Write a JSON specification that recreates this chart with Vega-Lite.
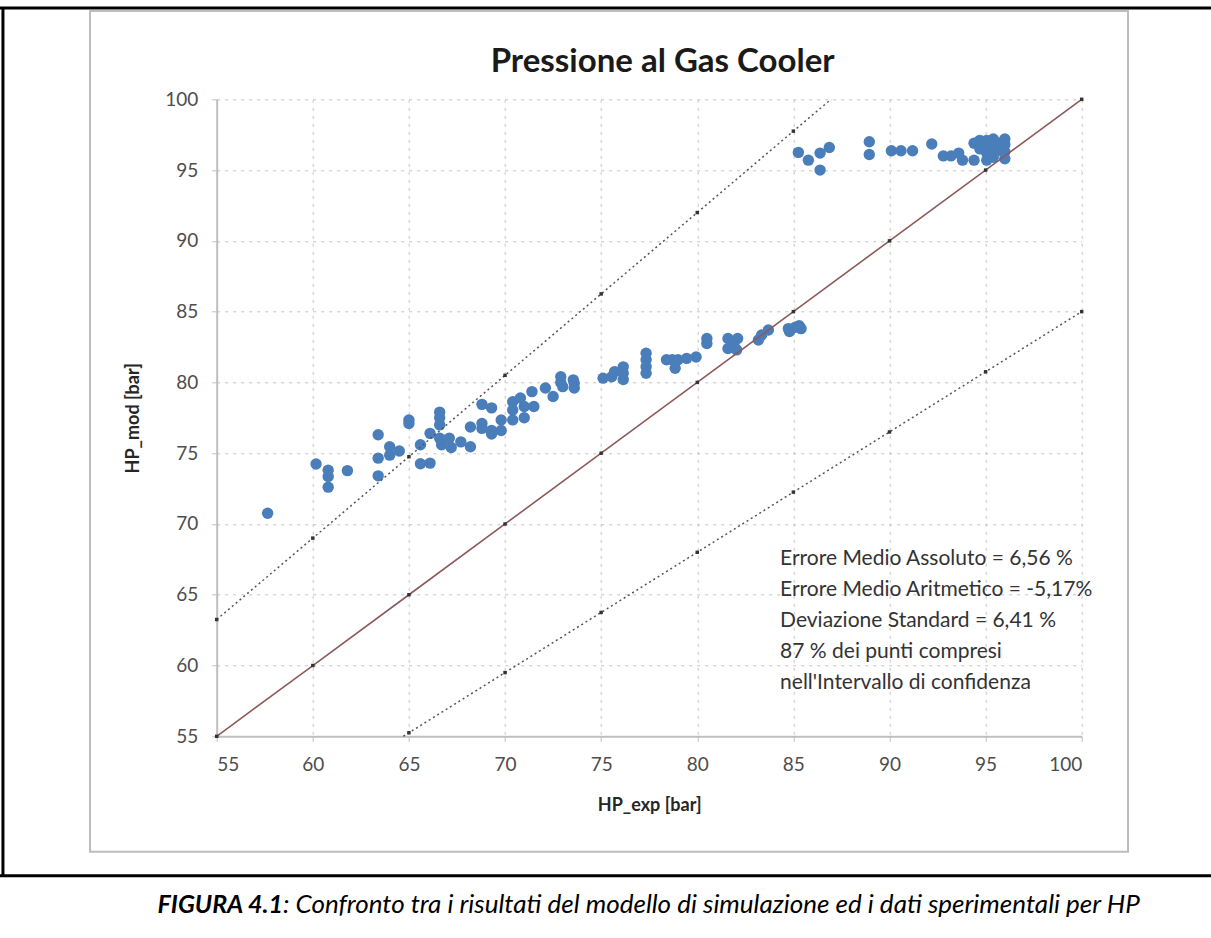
{
  "$schema": "https://vega.github.io/schema/vega-lite/v6.json",
  "width": 865,
  "height": 637,
  "autosize": {"type": "none"},
  "padding": {"left": 216.7, "top": 99.3, "right": 129.3, "bottom": 201.7},
  "background": "white",
  "config": {"view": {"stroke": null}, "font": "Lato"},
  "datasets": {
    "punti": [
      {"HP_exp": 57.65, "HP_mod": 70.76}, {"HP_exp": 60.17, "HP_mod": 74.24}, {"HP_exp": 60.8, "HP_mod": 73.8},
      {"HP_exp": 60.8, "HP_mod": 73.35}, {"HP_exp": 60.8, "HP_mod": 72.6}, {"HP_exp": 61.8, "HP_mod": 73.77},
      {"HP_exp": 63.4, "HP_mod": 76.3}, {"HP_exp": 63.4, "HP_mod": 74.65}, {"HP_exp": 63.4, "HP_mod": 73.4},
      {"HP_exp": 64.0, "HP_mod": 75.46}, {"HP_exp": 64.0, "HP_mod": 74.86}, {"HP_exp": 64.5, "HP_mod": 75.15},
      {"HP_exp": 65.0, "HP_mod": 77.1}, {"HP_exp": 65.0, "HP_mod": 77.35}, {"HP_exp": 65.6, "HP_mod": 75.6},
      {"HP_exp": 65.6, "HP_mod": 74.25}, {"HP_exp": 66.1, "HP_mod": 74.3}, {"HP_exp": 66.1, "HP_mod": 76.4},
      {"HP_exp": 66.6, "HP_mod": 77.9}, {"HP_exp": 66.6, "HP_mod": 77.5}, {"HP_exp": 66.6, "HP_mod": 77.0},
      {"HP_exp": 66.6, "HP_mod": 76.06}, {"HP_exp": 66.7, "HP_mod": 75.6}, {"HP_exp": 67.1, "HP_mod": 76.06},
      {"HP_exp": 67.2, "HP_mod": 75.4}, {"HP_exp": 67.7, "HP_mod": 75.8}, {"HP_exp": 68.2, "HP_mod": 75.45},
      {"HP_exp": 68.2, "HP_mod": 76.85}, {"HP_exp": 68.8, "HP_mod": 78.45}, {"HP_exp": 69.3, "HP_mod": 78.2},
      {"HP_exp": 68.8, "HP_mod": 77.1}, {"HP_exp": 68.8, "HP_mod": 76.75}, {"HP_exp": 69.3, "HP_mod": 76.6},
      {"HP_exp": 69.3, "HP_mod": 76.35}, {"HP_exp": 69.8, "HP_mod": 76.6}, {"HP_exp": 69.8, "HP_mod": 77.35},
      {"HP_exp": 70.4, "HP_mod": 78.64}, {"HP_exp": 70.4, "HP_mod": 78.05}, {"HP_exp": 70.4, "HP_mod": 77.35},
      {"HP_exp": 70.8, "HP_mod": 78.9}, {"HP_exp": 71.0, "HP_mod": 78.3}, {"HP_exp": 71.0, "HP_mod": 77.5},
      {"HP_exp": 71.4, "HP_mod": 79.35}, {"HP_exp": 71.5, "HP_mod": 78.3}, {"HP_exp": 72.1, "HP_mod": 79.6},
      {"HP_exp": 72.5, "HP_mod": 79.0}, {"HP_exp": 72.9, "HP_mod": 80.4}, {"HP_exp": 72.9, "HP_mod": 80.0},
      {"HP_exp": 73.0, "HP_mod": 79.7}, {"HP_exp": 73.6, "HP_mod": 79.94}, {"HP_exp": 73.6, "HP_mod": 79.6},
      {"HP_exp": 73.55, "HP_mod": 80.18}, {"HP_exp": 75.1, "HP_mod": 80.3}, {"HP_exp": 75.55, "HP_mod": 80.4},
      {"HP_exp": 75.7, "HP_mod": 80.76}, {"HP_exp": 76.15, "HP_mod": 81.1}, {"HP_exp": 76.15, "HP_mod": 80.65},
      {"HP_exp": 76.15, "HP_mod": 80.2}, {"HP_exp": 77.34, "HP_mod": 82.06}, {"HP_exp": 77.34, "HP_mod": 81.6},
      {"HP_exp": 77.34, "HP_mod": 81.1}, {"HP_exp": 77.34, "HP_mod": 80.65}, {"HP_exp": 78.4, "HP_mod": 81.6},
      {"HP_exp": 78.7, "HP_mod": 81.6}, {"HP_exp": 78.85, "HP_mod": 81.0}, {"HP_exp": 79.0, "HP_mod": 81.6},
      {"HP_exp": 79.45, "HP_mod": 81.7}, {"HP_exp": 79.94, "HP_mod": 81.8}, {"HP_exp": 80.5, "HP_mod": 83.1},
      {"HP_exp": 80.5, "HP_mod": 82.75}, {"HP_exp": 81.6, "HP_mod": 83.1}, {"HP_exp": 81.6, "HP_mod": 82.4},
      {"HP_exp": 82.1, "HP_mod": 83.1}, {"HP_exp": 82.05, "HP_mod": 82.3}, {"HP_exp": 81.9, "HP_mod": 82.7},
      {"HP_exp": 83.18, "HP_mod": 83.0}, {"HP_exp": 83.35, "HP_mod": 83.35}, {"HP_exp": 83.7, "HP_mod": 83.7},
      {"HP_exp": 84.74, "HP_mod": 83.8}, {"HP_exp": 85.1, "HP_mod": 83.9}, {"HP_exp": 85.4, "HP_mod": 83.8},
      {"HP_exp": 84.8, "HP_mod": 83.6}, {"HP_exp": 85.3, "HP_mod": 84.0},
      {"HP_exp": 85.26, "HP_mod": 96.25}, {"HP_exp": 85.78, "HP_mod": 95.7}, {"HP_exp": 86.39, "HP_mod": 95.0},
      {"HP_exp": 86.39, "HP_mod": 96.2}, {"HP_exp": 86.87, "HP_mod": 96.6}, {"HP_exp": 88.95, "HP_mod": 97.0},
      {"HP_exp": 88.95, "HP_mod": 96.1}, {"HP_exp": 90.1, "HP_mod": 96.37}, {"HP_exp": 90.6, "HP_mod": 96.37},
      {"HP_exp": 91.2, "HP_mod": 96.37}, {"HP_exp": 92.2, "HP_mod": 96.84}, {"HP_exp": 92.8, "HP_mod": 96.0},
      {"HP_exp": 93.2, "HP_mod": 96.0}, {"HP_exp": 93.6, "HP_mod": 96.2}, {"HP_exp": 93.8, "HP_mod": 95.7},
      {"HP_exp": 94.4, "HP_mod": 95.7}, {"HP_exp": 94.4, "HP_mod": 96.9}, {"HP_exp": 94.7, "HP_mod": 97.1},
      {"HP_exp": 94.7, "HP_mod": 96.5}, {"HP_exp": 95.06, "HP_mod": 97.1}, {"HP_exp": 95.06, "HP_mod": 96.6},
      {"HP_exp": 95.06, "HP_mod": 96.2}, {"HP_exp": 95.06, "HP_mod": 95.7}, {"HP_exp": 95.4, "HP_mod": 97.2},
      {"HP_exp": 95.4, "HP_mod": 96.8}, {"HP_exp": 95.4, "HP_mod": 96.3}, {"HP_exp": 95.4, "HP_mod": 95.9},
      {"HP_exp": 95.7, "HP_mod": 96.9}, {"HP_exp": 95.7, "HP_mod": 96.4}, {"HP_exp": 96.0, "HP_mod": 97.2},
      {"HP_exp": 96.0, "HP_mod": 96.8}, {"HP_exp": 96.0, "HP_mod": 96.3}, {"HP_exp": 96.0, "HP_mod": 95.8}
    ],
    "linee": [
      {"serie": "bisettrice", "x": 55, "y": 55}, {"serie": "bisettrice", "x": 60, "y": 60},
      {"serie": "bisettrice", "x": 65, "y": 65}, {"serie": "bisettrice", "x": 70, "y": 70},
      {"serie": "bisettrice", "x": 75, "y": 75}, {"serie": "bisettrice", "x": 80, "y": 80},
      {"serie": "bisettrice", "x": 85, "y": 85}, {"serie": "bisettrice", "x": 90, "y": 90},
      {"serie": "bisettrice", "x": 95, "y": 95}, {"serie": "bisettrice", "x": 100, "y": 100},
      {"serie": "sup", "x": 55, "y": 63.25}, {"serie": "sup", "x": 60, "y": 69},
      {"serie": "sup", "x": 65, "y": 74.75}, {"serie": "sup", "x": 70, "y": 80.5},
      {"serie": "sup", "x": 75, "y": 86.25}, {"serie": "sup", "x": 80, "y": 92},
      {"serie": "sup", "x": 85, "y": 97.75}, {"serie": "sup", "x": 86.96, "y": 100},
      {"serie": "inf", "x": 64.71, "y": 55}, {"serie": "inf", "x": 65, "y": 55.25},
      {"serie": "inf", "x": 70, "y": 59.5}, {"serie": "inf", "x": 75, "y": 63.75},
      {"serie": "inf", "x": 80, "y": 68}, {"serie": "inf", "x": 85, "y": 72.25},
      {"serie": "inf", "x": 90, "y": 76.5}, {"serie": "inf", "x": 95, "y": 80.75},
      {"serie": "inf", "x": 100, "y": 85}
    ]
  },
  "layer": [
    {
      "data": {"name": "punti"},
      "mark": {"type": "circle", "size": 130, "color": "#4a7ebb", "opacity": 1},
      "encoding": {
        "x": {
          "field": "HP_exp", "type": "quantitative",
          "scale": {"domain": [55, 100], "nice": false, "zero": false},
          "axis": {
            "values": [55, 60, 65, 70, 75, 80, 85, 90, 95, 100],
            "title": "HP_exp [bar]", "titleFont": "Lato", "titleFontSize": 18, "titleFontWeight": "bold", "titleColor": "#262626", "titlePadding": 22,
            "labelFont": "Lato", "labelFontSize": 19, "labelColor": "#4d4d4d", "labelPadding": 14,
            "tickSize": 5, "tickColor": "#bfbfbf", "domainColor": "#bfbfbf", "domainWidth": 2,
            "grid": true, "gridColor": "#c4c4c4", "gridDash": [3, 5], "gridWidth": 1
          }
        },
        "y": {
          "field": "HP_mod", "type": "quantitative",
          "scale": {"domain": [55, 100], "nice": false, "zero": false},
          "axis": {
            "values": [55, 60, 65, 70, 75, 80, 85, 90, 95, 100],
            "title": "HP_mod [bar]", "titleFont": "Lato", "titleFontSize": 18, "titleFontWeight": "bold", "titleColor": "#262626", "titlePadding": 22,
            "labelFont": "Lato", "labelFontSize": 19, "labelColor": "#4d4d4d", "labelPadding": 14,
            "tickSize": 5, "tickColor": "#bfbfbf", "domainColor": "#bfbfbf", "domainWidth": 2,
            "grid": true, "gridColor": "#c4c4c4", "gridDash": [3, 5], "gridWidth": 1
          }
        }
      }
    },
    {
      "data": {"values": [{}]},
      "mark": {"type": "rect", "fill": null, "filled": false, "stroke": "#bdbdbd", "strokeWidth": 2},
      "encoding": {
        "x": {"datum": 48.41, "type": "quantitative"},
        "x2": {"datum": 102.41},
        "y": {"datum": 106.24, "type": "quantitative"},
        "y2": {"datum": 46.84}
      }
    },
    {
      "data": {"name": "linee"},
      "transform": [{"filter": "datum.serie === 'bisettrice'"}],
      "mark": {"type": "line", "color": "#8c5a5a", "strokeWidth": 1.6},
      "encoding": {"x": {"field": "x", "type": "quantitative"}, "y": {"field": "y", "type": "quantitative"}}
    },
    {
      "data": {"name": "linee"},
      "transform": [{"filter": "datum.serie !== 'bisettrice'"}],
      "mark": {"type": "line", "color": "#555555", "strokeWidth": 1.5, "strokeDash": [2, 3]},
      "encoding": {"x": {"field": "x", "type": "quantitative"}, "y": {"field": "y", "type": "quantitative"}, "detail": {"field": "serie"}}
    },
    {
      "data": {"name": "linee"},
      "transform": [{"filter": "datum.x % 5 === 0"}],
      "mark": {"type": "square", "size": 12, "color": "#333333", "opacity": 1},
      "encoding": {"x": {"field": "x", "type": "quantitative"}, "y": {"field": "y", "type": "quantitative"}}
    },
    {
      "data": {"values": [{}]},
      "mark": {"type": "text", "align": "center", "baseline": "middle", "font": "Lato", "fontSize": 33, "fontWeight": "bold", "color": "#1a1a1a", "text": "Pressione al Gas Cooler"},
      "encoding": {"x": {"datum": 78.2, "type": "quantitative"}, "y": {"datum": 102.63, "type": "quantitative"}}
    },
    {
      "data": {"values": [{}]},
      "mark": {"type": "text", "align": "left", "baseline": "middle", "font": "Lato", "fontSize": 21, "lineHeight": 31, "color": "#333333",
        "text": ["Errore Medio Assoluto = 6,56 %", "Errore Medio Aritmetico = -5,17%", "Deviazione Standard = 6,41 %", "87 % dei punti compresi", "nell'Intervallo di confidenza"]},
      "encoding": {"x": {"datum": 84.31, "type": "quantitative"}, "y": {"datum": 67.53, "type": "quantitative"}}
    },
    {
      "data": {"values": [{}]},
      "mark": {"type": "rule", "color": "#000000", "strokeWidth": 3},
      "encoding": {"x": {"datum": 43.7, "type": "quantitative"}, "x2": {"datum": 106.8}, "y": {"datum": 106.45, "type": "quantitative"}}
    },
    {
      "data": {"values": [{}]},
      "mark": {"type": "rule", "color": "#000000", "strokeWidth": 3},
      "encoding": {"x": {"datum": 43.7, "type": "quantitative"}, "x2": {"datum": 106.8}, "y": {"datum": 45.14, "type": "quantitative"}}
    },
    {
      "data": {"values": [{}]},
      "mark": {"type": "rule", "color": "#000000", "strokeWidth": 3},
      "encoding": {"x": {"datum": 43.88, "type": "quantitative"}, "y": {"datum": 106.45, "type": "quantitative"}, "y2": {"datum": 45.14}}
    },
    {
      "data": {"values": [{}]},
      "mark": {"type": "text", "align": "right", "baseline": "middle", "font": "Lato", "fontSize": 25, "fontStyle": "italic", "fontWeight": "bold", "color": "#000000", "text": "FIGURA 4.1"},
      "encoding": {"x": {"datum": 58.45, "type": "quantitative"}, "y": {"datum": 43.08, "type": "quantitative"}}
    },
    {
      "data": {"values": [{}]},
      "mark": {"type": "text", "align": "left", "baseline": "middle", "font": "Lato", "fontSize": 26, "fontStyle": "italic", "color": "#000000", "text": ": Confronto tra i risultati del modello di simulazione ed i dati sperimentali per HP"},
      "encoding": {"x": {"datum": 58.45, "type": "quantitative"}, "y": {"datum": 43.08, "type": "quantitative"}}
    }
  ]
}
